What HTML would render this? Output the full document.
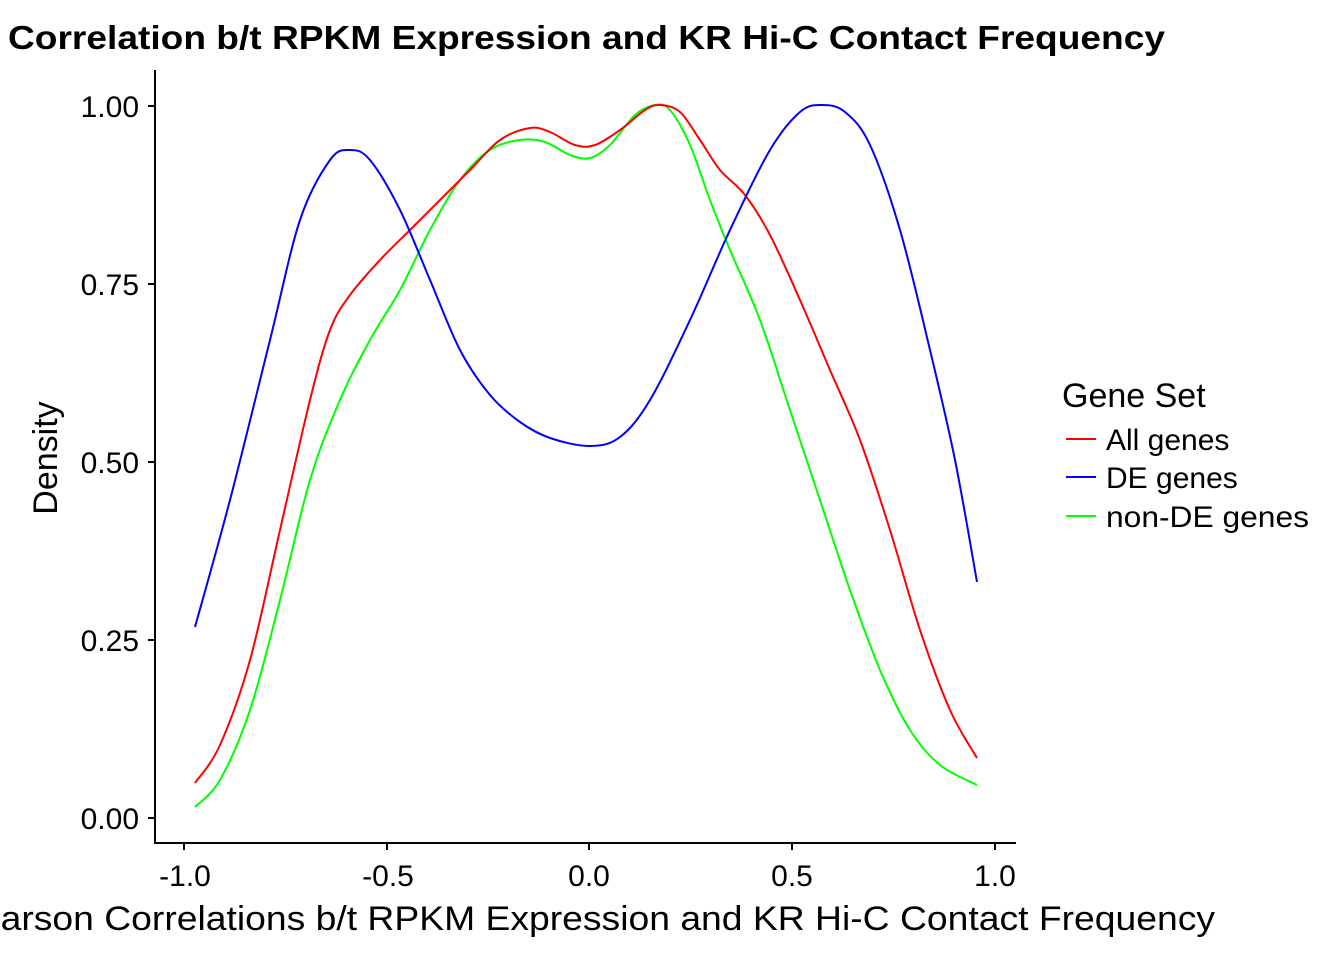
<!DOCTYPE html>
<html><head><meta charset="utf-8"><style>body{margin:0;background:#fff}svg{display:block}text{font-family:"Liberation Sans",Arial,sans-serif}</style></head><body>
<svg width="1344" height="960" viewBox="0 0 1344 960">
<text x="8" y="49" font-size="33" font-weight="bold" textLength="1157" lengthAdjust="spacingAndGlyphs">Correlation b/t RPKM Expression and KR Hi-C Contact Frequency</text>
<g stroke="#000" stroke-width="2" fill="none">
<path d="M155 70V843H1016"/>
<path d="M148 106H155M148 284H155M148 462H155M148 640H155M148 818H155"/>
<path d="M184 843V850M387 843V850M589 843V850M792 843V850M995 843V850"/>
</g>
<g font-size="30" text-anchor="end">
<text x="139" y="117">1.00</text><text x="139" y="295">0.75</text><text x="139" y="473">0.50</text><text x="139" y="651">0.25</text><text x="139" y="829">0.00</text>
</g>
<g font-size="30" text-anchor="middle">
<text x="185" y="886">-1.0</text><text x="388" y="886">-0.5</text><text x="589" y="886">0.0</text><text x="792" y="886">0.5</text><text x="995" y="886">1.0</text>
</g>
<text x="585" y="930" font-size="34" text-anchor="middle" textLength="1260" lengthAdjust="spacingAndGlyphs">Pearson Correlations b/t RPKM Expression and KR Hi-C Contact Frequency</text>
<text transform="translate(57,458) rotate(-90)" font-size="34" text-anchor="middle">Density</text>
<g fill="none" stroke-width="2" stroke-linejoin="round">
<path id="g" stroke="#00ff00"/>
<path id="r" stroke="#ff0000"/>
<path id="b" stroke="#0000ff"/>
</g>
<text x="1062" y="407" font-size="34">Gene Set</text>
<g stroke-width="2"><path d="M1066 439H1096" stroke="#ff0000"/><path d="M1066 477H1096" stroke="#0000ff"/><path d="M1066 516H1096" stroke="#00ff00"/></g>
<g font-size="30"><text x="1106" y="450">All genes</text><text x="1106" y="488">DE genes</text><text x="1106" y="527" textLength="203" lengthAdjust="spacingAndGlyphs">non-DE genes</text></g>
</svg>
<script>
function cr(s){var p=s.trim().split(/\s+/).map(function(t){return t.split(',').map(Number)});var d='M'+p[0][0]+' '+p[0][1];for(var i=0;i<p.length-1;i++){var a=p[i-1]||p[i],b=p[i],c=p[i+1],e=p[i+2]||c;d+='C'+(b[0]+(c[0]-a[0])/6)+' '+(b[1]+(c[1]-a[1])/6)+' '+(c[0]-(e[0]-b[0])/6)+' '+(c[1]-(e[1]-b[1])/6)+' '+c[0]+' '+c[1];}return d;}
document.getElementById('g').setAttribute('d',cr("195,807 220,780 250,710 280,600 310,480 340,400 370,340 400,290 430,230 460,180 490,150 520,140 545,142 570,155 590,158 610,145 635,115 655,105 670,110 690,145 710,200 730,250 760,320 790,410 820,500 850,590 880,670 910,730 940,765 977,785"));
document.getElementById('r').setAttribute('d',cr("195,783 220,745 250,660 280,530 310,400 330,330 350,295 380,260 410,230 440,200 470,170 500,140 530,128 550,132 575,145 595,145 620,130 645,110 660,105 680,112 700,140 720,170 745,195 770,235 800,300 830,370 860,440 890,530 920,630 950,710 977,758"));
document.getElementById('b').setAttribute('d',cr("195,627 230,500 270,340 300,220 330,160 350,150 370,160 400,210 430,280 460,350 490,395 520,422 550,438 590,446 620,437 650,400 690,320 730,230 770,150 800,112 822,105 845,112 870,145 900,230 930,350 955,460 977,582"));
</script>
</body></html>
